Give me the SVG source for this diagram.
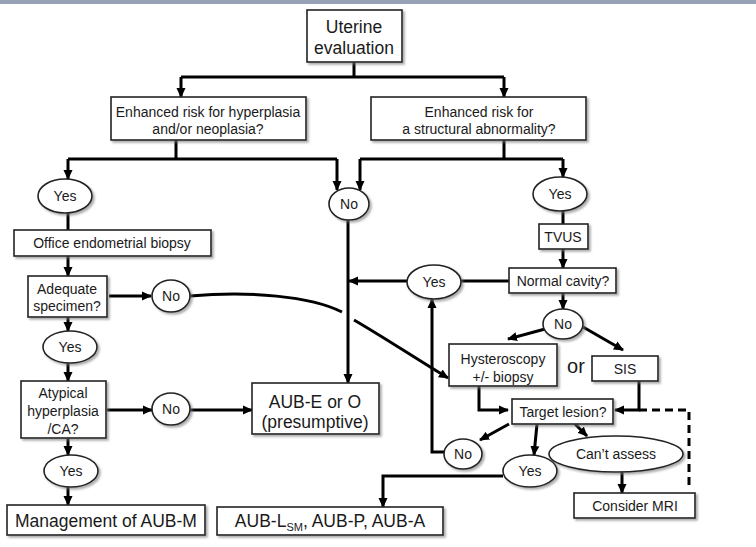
<svg xmlns="http://www.w3.org/2000/svg" width="756" height="547" viewBox="0 0 756 547">
<defs>
<filter id="sh" x="-10%" y="-10%" width="130%" height="140%">
<feDropShadow dx="2" dy="2" stdDeviation="1" flood-color="#777" flood-opacity="0.6"/>
</filter>
<marker id="ah" markerUnits="userSpaceOnUse" markerWidth="11" markerHeight="11" refX="9" refY="5" orient="auto">
<path d="M0,0.5 L10,5 L0,9.5 z" fill="#000"/>
</marker>
<style>
.bx{fill:#fff;stroke:#222;stroke-width:1.6;filter:url(#sh)}
.ln{fill:none;stroke:#000;stroke-width:3}
.ar{fill:none;stroke:#000;stroke-width:3;marker-end:url(#ah)}
.ds{fill:none;stroke:#000;stroke-width:3;stroke-dasharray:8 5}
text{font-family:"Liberation Sans",Arial,sans-serif;font-size:14px;fill:#1a1a1a;text-anchor:middle}
.lg{font-size:17.5px}
.or{font-size:20px}
</style>
</defs>
<rect x="0" y="0" width="756" height="4" fill="#98a2b6"/>

<g id="connectors">
<path class="ln" d="M354,62 V77 M181,77 H504"/>
<path class="ar" d="M181,77 V97"/>
<path class="ar" d="M504,77 V97"/>
<path class="ln" d="M176,140 V159 M68,159 H337 M504,140 V159 M360,159 H563"/>
<path class="ar" d="M68,159 V179"/>
<path class="ar" d="M337,159 V190"/>
<path class="ar" d="M360,159 V190"/>
<path class="ar" d="M563,159 V177"/>
<path class="ln" d="M68,213 V230"/>
<path class="ar" d="M68,256 V276"/>
<path class="ar" d="M109,296 H151"/>
<path class="ln" d="M190,296 C250,291 310,296 342,312"/>
<path class="ar" d="M354,320 C385,338 415,358 448,378"/>
<path class="ar" d="M68,317 V331"/>
<path class="ar" d="M68,363 V381"/>
<path class="ar" d="M107,410 H152"/>
<path class="ar" d="M190,410 H252"/>
<path class="ar" d="M68,438 V455"/>
<path class="ar" d="M68,487 V505"/>
<path class="ar" d="M348,220 V383"/>
<path class="ln" d="M563,211 V224"/>
<path class="ar" d="M563,249 V268"/>
<path class="ln" d="M509,281 H461"/>
<path class="ar" d="M407,281 H349"/>
<path class="ar" d="M563,293 V309"/>
<path class="ar" d="M545,329 L508,339"/>
<path class="ar" d="M583,327 L623,350"/>
<path class="ar" d="M479,386 V410 H508"/>
<path class="ar" d="M639,381 V410 H615"/>
<path class="ds" d="M639,410 H689 V490"/>
<path class="ar" d="M509,424 L480,440"/>
<path class="ar" d="M444,452 H432 V299"/>
<path class="ar" d="M537,424 L534,455"/>
<path class="ar" d="M575,424 L587,436"/>
<path class="ar" d="M622,472 V493"/>
<path class="ar" d="M503,476 H383 V507"/>
</g>

<g id="uterine"><rect class="bx" x="307" y="10" width="95" height="52"/><text class="lg" x="354" y="33">Uterine</text><text class="lg" x="354" y="54">evaluation</text></g>
<g id="risk-hyperplasia"><rect class="bx" x="111" y="97" width="195" height="43"/><text x="208" y="117">Enhanced risk for hyperplasia</text><text x="208" y="134">and/or neoplasia?</text></g>
<g id="risk-structural"><rect class="bx" x="371" y="97" width="215" height="43"/><text x="479" y="117">Enhanced risk for</text><text x="479" y="134">a structural abnormality?</text></g>
<g id="yes-1"><ellipse class="bx" cx="65" cy="196" rx="27" ry="17"/><text x="65" y="201">Yes</text></g>
<g id="no-center"><ellipse class="bx" cx="349" cy="204" rx="20" ry="16"/><text x="349" y="209">No</text></g>
<g id="office-biopsy"><rect class="bx" x="14" y="230" width="197" height="26"/><text x="112" y="248">Office endometrial biopsy</text></g>
<g id="adequate"><rect class="bx" x="28" y="276" width="79" height="41"/><text x="67" y="294">Adequate</text><text x="67" y="311">specimen?</text></g>
<g id="no-adequate"><ellipse class="bx" cx="171" cy="296" rx="19" ry="16"/><text x="171" y="301">No</text></g>
<g id="yes-2"><ellipse class="bx" cx="70" cy="347" rx="27" ry="16"/><text x="70" y="352">Yes</text></g>
<g id="atypical"><rect class="bx" x="21" y="381" width="85" height="57"/><text x="63" y="398">Atypical</text><text x="63" y="416">hyperplasia</text><text x="63" y="434">/CA?</text></g>
<g id="no-atypical"><ellipse class="bx" cx="171" cy="409" rx="19" ry="16"/><text x="171" y="414">No</text></g>
<g id="aub-e"><rect class="bx" x="252" y="383" width="127" height="51"/><text class="lg" x="315" y="408">AUB-E or O</text><text class="lg" x="315" y="428">(presumptive)</text></g>
<g id="yes-3"><ellipse class="bx" cx="71" cy="471" rx="27" ry="16"/><text x="71" y="476">Yes</text></g>
<g id="aub-m"><rect class="bx" x="7" y="505" width="198" height="30"/><text class="lg" x="106" y="527">Management of AUB-M</text></g>
<g id="aub-l"><rect class="bx" x="217" y="507" width="226" height="28"/><text class="lg" x="330" y="527">AUB-L<tspan font-size="11" dy="4">SM</tspan><tspan dy="-4">, AUB-P, AUB-A</tspan></text></g>
<g id="yes-r"><ellipse class="bx" cx="560" cy="194" rx="27" ry="17"/><text x="560" y="199">Yes</text></g>
<g id="tvus"><rect class="bx" x="539" y="224" width="49" height="25"/><text x="563" y="242">TVUS</text></g>
<g id="normal-cavity"><rect class="bx" x="509" y="268" width="107" height="25"/><text x="563" y="286">Normal cavity?</text></g>
<g id="yes-normal"><ellipse class="bx" cx="434" cy="282" rx="27" ry="17"/><text x="434" y="287">Yes</text></g>
<g id="no-normal"><ellipse class="bx" cx="563" cy="324" rx="20" ry="15"/><text x="563" y="329">No</text></g>
<g id="hysteroscopy"><rect class="bx" x="449" y="344" width="108" height="42"/><text x="503" y="364">Hysteroscopy</text><text x="503" y="382">+/- biopsy</text></g>
<g id="or-label"><text class="or" x="576" y="373">or</text></g>
<g id="sis"><rect class="bx" x="592" y="356" width="66" height="25"/><text x="625" y="374">SIS</text></g>
<g id="target"><rect class="bx" x="512" y="399" width="101" height="25"/><text x="563" y="417">Target lesion?</text></g>
<g id="no-target"><ellipse class="bx" cx="463" cy="454" rx="19" ry="15"/><text x="463" y="459">No</text></g>
<g id="yes-target"><ellipse class="bx" cx="530" cy="471" rx="27" ry="16"/><text x="530" y="476">Yes</text></g>
<g id="cant-assess"><ellipse class="bx" cx="616" cy="454" rx="67" ry="18"/><text x="616" y="459">Can’t assess</text></g>
<g id="consider-mri"><rect class="bx" x="574" y="493" width="121" height="25"/><text x="635" y="511">Consider MRI</text></g>
</svg>
